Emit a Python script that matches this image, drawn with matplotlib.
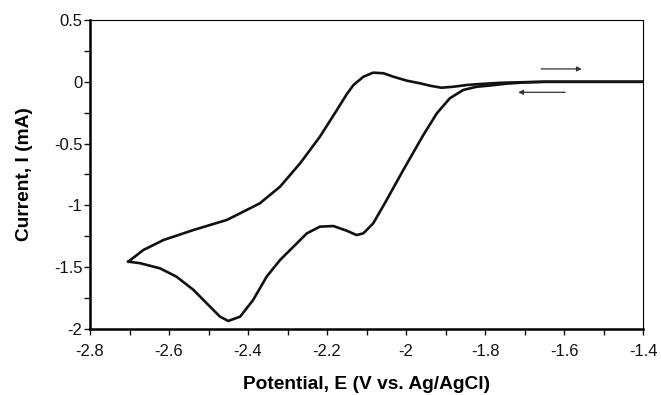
import matplotlib.pyplot as plt
from matplotlib.ticker import MultipleLocator

plt.rcParams['font.family'] = ['Liberation Sans', 'DejaVu Sans']

# cathodic sweep: -1.4 V down to -2.7 V
E_fwd = [-1.40, -1.65, -1.70, -1.745, -1.787, -1.821, -1.855, -1.889, -1.922, -1.956,
         -2.007, -2.049, -2.083, -2.108, -2.125, -2.150, -2.184, -2.218, -2.251,
         -2.285, -2.319, -2.353, -2.387, -2.420, -2.450, -2.471, -2.496, -2.538,
         -2.581, -2.623, -2.673, -2.703]
I_fwd = [0.0, 0.0, -0.005, -0.015, -0.030, -0.040, -0.066, -0.133, -0.255, -0.430,
         -0.714, -0.956, -1.145, -1.226, -1.240, -1.205, -1.167, -1.172, -1.226,
         -1.334, -1.442, -1.577, -1.765, -1.900, -1.935, -1.900, -1.820, -1.684,
         -1.577, -1.509, -1.468, -1.455]

# return sweep: -2.7 V back to -1.4 V
E_rev = [-2.703, -2.665, -2.614, -2.538, -2.454, -2.420, -2.370, -2.319, -2.268,
         -2.218, -2.175, -2.150, -2.133, -2.108, -2.083, -2.057, -2.032, -1.998,
         -1.965, -1.939, -1.910, -1.880, -1.846, -1.813, -1.76, -1.70, -1.65, -1.40]
I_rev = [-1.455, -1.361, -1.280, -1.199, -1.118, -1.064, -0.983, -0.849, -0.659,
         -0.444, -0.228, -0.100, -0.026, 0.041, 0.074, 0.069, 0.041, 0.009,
         -0.012, -0.032, -0.048, -0.040, -0.026, -0.018, -0.008, -0.003, 0.0, 0.0]

fig = plt.figure(figsize=(6.61, 3.95), dpi=100)
ax = fig.add_axes([0.1362, 0.1671, 0.9728 - 0.1362, 0.9494 - 0.1671])

ax.plot(E_fwd, I_fwd, color='#111111', linewidth=1.9, solid_joinstyle='round')
ax.plot(E_rev, I_rev, color='#111111', linewidth=1.9, solid_joinstyle='round')

# scan direction arrows
ax.annotate('', xy=(-1.555, 0.104), xytext=(-1.658, 0.104),
            arrowprops=dict(arrowstyle='-|>', color='#333333', lw=0.9,
                            mutation_scale=7, shrinkA=0, shrinkB=0))
ax.annotate('', xy=(-1.716, -0.085), xytext=(-1.597, -0.085),
            arrowprops=dict(arrowstyle='-|>', color='#333333', lw=0.9,
                            mutation_scale=7, shrinkA=0, shrinkB=0))

ax.set_xlim(-2.8, -1.4)
ax.set_ylim(-2, 0.5)
ax.xaxis.set_major_locator(MultipleLocator(0.2))
ax.xaxis.set_minor_locator(MultipleLocator(0.1))
ax.yaxis.set_major_locator(MultipleLocator(0.5))
ax.yaxis.set_minor_locator(MultipleLocator(0.25))
ax.xaxis.set_major_formatter(plt.FuncFormatter(lambda v, p: ('%g' % round(v, 2))))
ax.yaxis.set_major_formatter(plt.FuncFormatter(lambda v, p: ('%g' % round(v, 2))))

for s in ['left', 'bottom']:
    ax.spines[s].set_linewidth(1.8)
for s in ['top', 'right']:
    ax.spines[s].set_linewidth(0.8)

ax.tick_params(which='both', direction='out', length=4, width=1, labelsize=12,
               colors='#111111')
ax.tick_params(axis='y', pad=1.5)
ax.tick_params(axis='x', pad=7)

ax.set_xlabel('Potential, E (V vs. Ag/AgCl)', fontsize=13.8, fontweight='bold', labelpad=12)
ax.set_ylabel('Current, I (mA)', fontsize=13.8, fontweight='bold', labelpad=15)

fig.savefig('out.png', dpi=100)
